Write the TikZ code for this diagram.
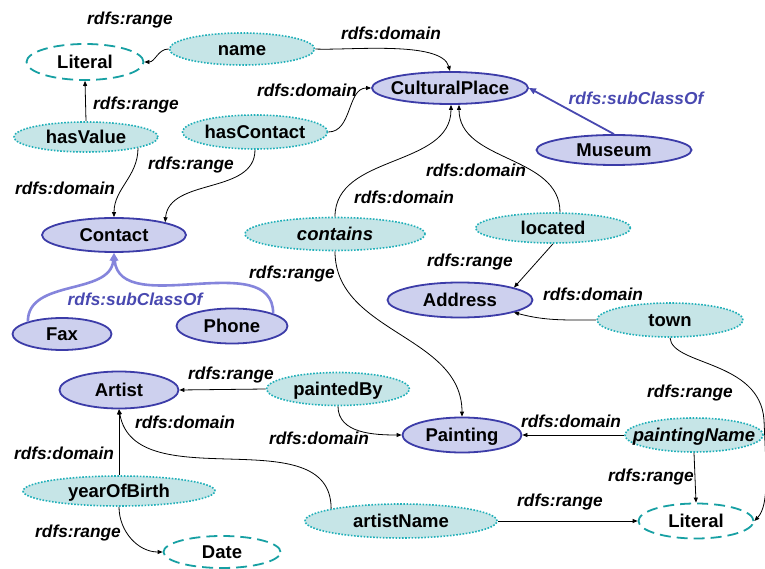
\documentclass[tikz,border=0pt]{standalone}
\usepackage{fontspec}
\setmainfont{Liberation Sans}
\usetikzlibrary{shapes.geometric,arrows.meta}
\definecolor{propfill}{RGB}{198,229,231}
\definecolor{propline}{RGB}{31,175,184}
\definecolor{classfill}{RGB}{205,208,238}
\definecolor{classline}{RGB}{60,60,168}
\definecolor{litline}{RGB}{23,160,163}
\definecolor{subline}{RGB}{72,72,176}
\definecolor{sublight}{RGB}{133,133,220}
\begin{document}
\begin{tikzpicture}[x=1pt, y=1pt,
	oval/.style 2 args={ellipse, inner sep=0pt, minimum width=#1, minimum height=#2,
		text height=14pt, text depth=1pt,
		font=\bfseries\fontsize{18.5}{20}\selectfont,
		execute at begin node={\hbox to 0pt\bgroup\hss},
		execute at end node={\hss\egroup}},
	prop/.style 2 args={oval={#1}{#2}, fill=propfill, draw=propline, line width=1.6pt,
		dash pattern=on 1.6pt off 1.6pt},
	cls/.style 2 args={oval={#1}{#2}, fill=classfill, draw=classline, line width=1.8pt},
	lit/.style 2 args={oval={#1}{#2}, fill=white, draw=litline, line width=1.8pt,
		dash pattern=on 11pt off 6pt},
	lbl/.style={font=\bfseries\itshape\fontsize{17.3}{19}\selectfont, inner sep=0pt},
	sublbl/.style={lbl, text=subline},
	rel/.style={draw=black, line width=0.8pt, -{Triangle[length=5pt, width=4pt]}},
	sub/.style={draw=subline, line width=1.8pt, -{Triangle[length=7pt, width=6pt]}},
	sublite/.style={draw=sublight, line width=2.6pt, -{Triangle[length=8pt, width=7pt]}},
]
	\useasboundingbox (0,0) rectangle (765,568);
	% classes and properties
	\node[lit={117}{36}] (litTop) at (85,506) {Literal};
	\node[prop={145}{32}] (name) at (242,519) {name};
	\node[prop={144}{30}] (hasValue) at (86,431) {hasValue};
	\node[prop={145}{34}] (hasContact) at (255,436) {hasContact};
	\node[cls={156}{32}] (culturalPlace) at (450,480) {CulturalPlace};
	\node[cls={155}{30}] (museum) at (614,418) {Museum};
	\node[cls={144}{34}] (contact) at (114,333) {Contact};
	\node[prop={180}{33}] (contains) at (335,334) {\itshape contains};
	\node[prop={155}{30}] (located) at (553,340) {located};
	\node[cls={145}{35}] (address) at (460,268) {Address};
	\node[prop={146}{34}] (town) at (670,248) {town};
	\node[cls={99}{32}] (fax) at (62,234) {Fax};
	\node[cls={111}{35}] (phone) at (232,242) {Phone};
	\node[cls={119}{37}] (artist) at (119,178) {Artist};
	\node[prop={143}{33}] (paintedBy) at (338,179) {paintedBy};
	\node[cls={119}{35}] (painting) at (462,133) {Painting};
	\node[prop={138}{34}] (paintingName) at (694,133) {\itshape paintingName};
	\node[prop={192}{30}] (yearOfBirth) at (119,77) {yearOfBirth};
	\node[lit={117}{32}] (date) at (222,16) {Date};
	\node[prop={192}{34}] (artistName) at (401,47) {artistName};
	\node[lit={115}{35}] (litBottom) at (696,47) {Literal};
	\coordinate (townBend) at (764,148);
	% edge labels
	\node[lbl] (nameRange) at (130,548) {rdfs:range};
	\node[lbl] (nameDomain) at (391,535) {rdfs:domain};
	\node[lbl] (hasValueRange) at (136,463) {rdfs:range};
	\node[lbl] (hasValueDomain) at (65,380) {rdfs:domain};
	\node[lbl] (hasContactDomain) at (307,478) {rdfs:domain};
	\node[lbl] (hasContactRange) at (191,403) {rdfs:range};
	\node[sublbl] (museumSub) at (636,470) {rdfs:subClassOf};
	\node[sublbl] (contactSub) at (135,269) {rdfs:subClassOf};
	\node[lbl] (containsDomain) at (404,371) {rdfs:domain};
	\node[lbl] (locatedDomain) at (476,398) {rdfs:domain};
	\node[lbl] (containsRange) at (292,294) {rdfs:range};
	\node[lbl] (locatedRange) at (470,306) {rdfs:range};
	\node[lbl] (townDomain) at (593,274) {rdfs:domain};
	\node[lbl] (townRange) at (690,175) {rdfs:range};
	\node[lbl] (paintedByRange) at (231,193) {rdfs:range};
	\node[lbl] (paintedByDomain) at (319,130) {rdfs:domain};
	\node[lbl] (paintingNameDomain) at (571,147) {rdfs:domain};
	\node[lbl] (paintingNameRange) at (651,91) {rdfs:range};
	\node[lbl] (yearDomain) at (64,115) {rdfs:domain};
	\node[lbl] (yearRange) at (78,35) {rdfs:range};
	\node[lbl] (artistNameDomain) at (185,146) {rdfs:domain};
	\node[lbl] (artistNameRange) at (560,66) {rdfs:range};
	% connectors
	\draw[rel] (name.west) to[out=180,in=0] (litTop.east);
	\draw[rel] (name.east) to[out=-3,in=105,looseness=0.6] (culturalPlace.north);
	\draw[rel] (hasValue.north) -- (litTop.south);
	\draw[rel] (hasValue.-12) to[out=-90,in=90] (contact.north);
	\draw[rel] (hasContact.east) to[out=0,in=180] (culturalPlace.west);
	\draw[rel] (hasContact.south) to[out=-90,in=85] (contact.14);
	\draw[sub] (museum.north) -- (culturalPlace.east);
	\draw[sublite] (fax.160) to[out=90,in=-95] (contact.south);
	\draw[sublite] (phone.17) to[out=90,in=-85] (contact.south);
	\draw[rel] (contains.north) to[out=90,in=-90] ([xshift=1pt]culturalPlace.south);
	\draw[rel] ([xshift=7pt]located.north) to[out=90,in=-90] ([xshift=9pt]culturalPlace.south);
	\draw[rel] (contains.south) to[out=-90,in=90] (painting.north);
	\draw[rel] (located.south) -- (address.13);
	\draw[rel] (town.west) to[out=180,in=-15] (address.-13);
	\draw[rel] (town.south) .. controls +(2,-28) and +(-4,60) .. (townBend)
		.. controls +(2,-50) and +(15,16) .. (litBottom.east);
	\draw[rel] (paintedBy.west) -- (artist.east);
	\draw[rel] (paintedBy.south) to[out=-90,in=180] (painting.west);
	\draw[rel] (paintingName.west) -- (painting.east);
	\draw[rel] (paintingName.south) -- (litBottom.north);
	\draw[rel] (yearOfBirth.north) -- (artist.south);
	\draw[rel] (yearOfBirth.south) to[out=-90,in=180] (date.west);
	\draw[rel] (artistName.170) to[out=90,in=-80] (artist.south);
	\draw[rel] (artistName.east) -- (litBottom.west);
\end{tikzpicture}
\end{document}
